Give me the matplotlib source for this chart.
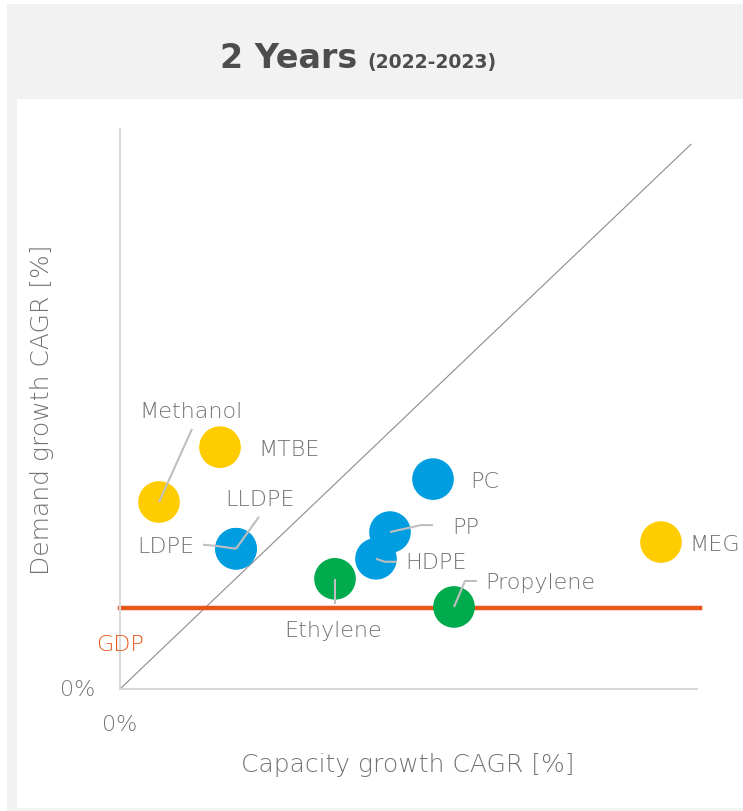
import matplotlib.pyplot as plt
import matplotlib.transforms as mtransforms
from matplotlib.patches import Rectangle

# chart values (abstract CAGR units)
names = ["Methanol", "MTBE", "LDPE", "LLDPE", "PC", "PP", "HDPE", "Ethylene", "Propylene", "MEG"]
capacity = [0.78, 2.0, 2.32, 2.32, 6.26, 5.4, 5.12, 4.3, 6.68, 10.82]
demand = [3.92, 5.07, 2.94, 2.94, 4.40, 3.29, 2.73, 2.31, 1.72, 3.08]
groups = ["yellow", "yellow", "blue", "blue", "blue", "blue", "blue", "green", "green", "yellow"]
gdp = 1.70

colors = {"yellow": "#ffcc00", "blue": "#009ee0", "green": "#00ab4e"}
gray_txt = "#727272"
orange = "#e8561a"

# label placement, pixel offsets from the marker centre (y up)
label_pos = {
    "Methanol": ((32, 91), "center", [(0, 0), (33, 73)]),
    "MTBE": ((38, -2), "left", None),
    "LDPE": ((-42, 3), "right", [(0, 0), (-21, 3), (-33, 4)]),
    "LLDPE": ((24, 50), "center", [(0, 0), (23, 32)]),
    "PC": ((37, -2), "left", None),
    "PP": ((62, 5), "left", [(0, 0), (31, 7), (43, 7)]),
    "HDPE": ((29, -3), "left", [(0, 0), (9, -3), (21, -3)]),
    "Ethylene": ((-2, -51), "center", [(0, 0), (0, -25)]),
    "Propylene": ((31, 25), "left", [(0, 0), (11, 26), (23, 26)]),
    "MEG": ((28, -2), "left", None),
}

plt.rcParams["font.family"] = ["DejaVu Sans"]

fig = plt.figure(figsize=(7.43, 8.12), dpi=100)
W, H = 743, 812


def frac(x, y, w, h):
    return (x / W, 1 - (y + h) / H, w / W, h / H)


# frame and title band
x0, y0, w0, h0 = frac(7, 5, 736, 807)
fig.add_artist(Rectangle((x0, y0), w0, h0, transform=fig.transFigure,
                         facecolor="#f2f2f2", edgecolor="none", zorder=0))
x1, y1, w1, h1 = frac(17, 100, 726, 709)
fig.add_artist(Rectangle((x1, y1), w1, h1, transform=fig.transFigure,
                         facecolor="white", edgecolor="none", zorder=0))

fig.text(357 / W, 1 - 68 / H, "2 Years", ha="right", va="baseline",
         fontsize=24, fontweight="bold", color="#4d4d4d")
fig.text(367 / W, 1 - 68 / H, "(2022-2023)", ha="left", va="baseline",
         fontsize=13.5, fontweight="bold", color="#4d4d4d")

ax = fig.add_axes(frac(120, 130, 577, 560))
ax.set_facecolor("none")
ax.set_xlim(0, 577 / 50)
ax.set_ylim(0, 560 / 47.7)
for s in ["top", "right"]:
    ax.spines[s].set_visible(False)
for s in ["left", "bottom"]:
    ax.spines[s].set_color("#d9d9d9")
    ax.spines[s].set_linewidth(1.5)
ax.set_xticks([])
ax.set_yticks([])

# parity line and GDP line
ax.plot([0, 11.42], [0, 11.42], color="#8c8c8c", lw=0.8, zorder=2)
ax.plot([0, 11.6], [gdp, gdp], color=orange, lw=3.2, clip_on=False, zorder=2)

for n, cx, cy, g in zip(names, capacity, demand, groups):
    ax.scatter(cx, cy, s=900, color=colors[g], edgecolors="none", zorder=3)
    (dx, dy), ha, leader = label_pos[n]
    if leader:
        tr = fig.dpi_scale_trans + mtransforms.ScaledTranslation(cx, cy, ax.transData)
        ax.plot([p[0] / 100 for p in leader], [p[1] / 100 for p in leader],
                color="#bfbfbf", lw=1.5, transform=tr, zorder=4, solid_capstyle="butt")
    ax.annotate(n, (cx, cy), xytext=(dx, dy), textcoords="offset pixels",
                ha=ha, va="center", fontsize=16, fontweight="light", color=gray_txt, zorder=5)

ax.text(0, gdp, "GDP", transform=mtransforms.offset_copy(ax.transData, fig, x=0, y=-36, units="dots"),
        ha="center", va="center", fontsize=16, fontweight="light", color=orange)
ax.annotate("0%", (0, 0), xytext=(-25, 0), textcoords="offset pixels",
            ha="right", va="center", fontsize=16, fontweight="light", color=gray_txt)
ax.annotate("0%", (0, 0), xytext=(0, -35), textcoords="offset pixels",
            ha="center", va="center", fontsize=16, fontweight="light", color=gray_txt)

fig.text(408 / W, 1 - 765 / H, "Capacity growth CAGR [%]", ha="center", va="center",
         fontsize=18, fontweight="light", color=gray_txt)
fig.text(42 / W, 1 - 410 / H, "Demand growth CAGR [%]", ha="center", va="center",
         rotation=90, fontsize=18, fontweight="light", color=gray_txt)

fig.savefig("out.png", dpi=100)
